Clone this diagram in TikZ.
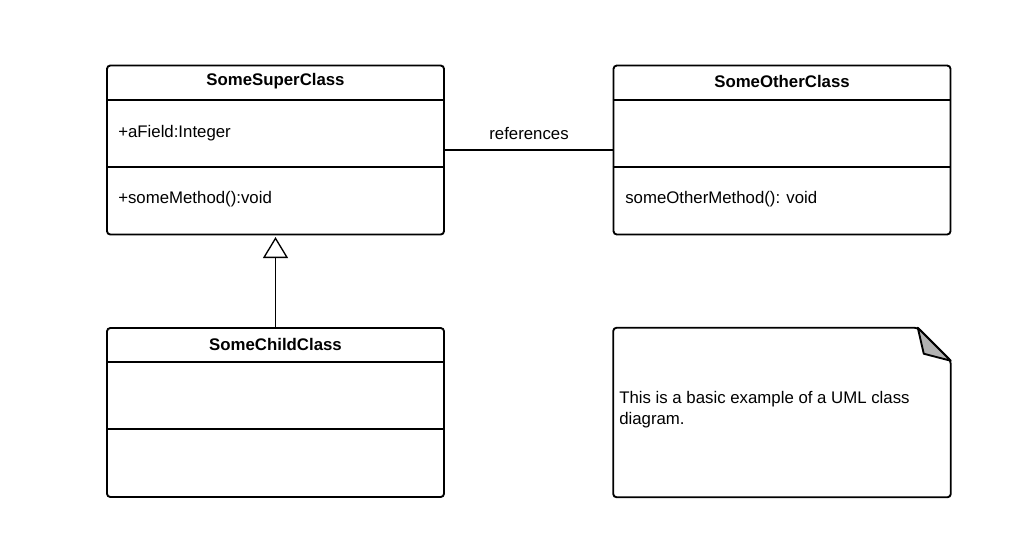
\documentclass[tikz,border=0pt]{standalone}
\usepackage{fontspec}
\setmainfont{Liberation Sans}
\usetikzlibrary{arrows.meta,positioning}
\tikzstyle{outline}=[
	draw=black,
	line width=1.4pt
]
\tikzstyle{classbox}=[
	outline,
	rounded corners=2.5pt,
	minimum width=252.75pt,
	minimum height=126.75pt,
	inner sep=0pt
]
\tikzstyle{divider}=[
	draw=black,
	line width=1.4pt
]
\tikzstyle{edge}=[
	-,
	draw=black,
	line width=1pt
]
\tikzstyle{cname}=[
	font=\fontsize{12.6}{15.75}\selectfont\bfseries,
	inner sep=0pt
]
\tikzstyle{member}=[
	font=\fontsize{12.6}{15.75}\selectfont,
	anchor=west,
	inner sep=0pt
]

\begin{document}
\begin{tikzpicture}[x=0.75pt, y=-0.75pt]
\useasboundingbox (0,0) rectangle (1030,544);

\node[classbox] (super) at (275.5,150) {};
\node[classbox] (other) at (782,150) {};
\node[classbox] (child) at (275.5,412.5) {};
\node[minimum width=252.75pt, minimum height=126.75pt, inner sep=0pt] (note) at (782,412.5) {};

% compartments
\foreach \c in {super,other,child} {
    \draw[divider] ([yshift=-26.25pt]\c.north west) -- ([yshift=-26.25pt]\c.north east);
    \draw[divider] ([yshift=-76.5pt]\c.north west) -- ([yshift=-76.5pt]\c.north east);
}

\node[cname] (supername) at (275.5,81) {SomeSuperClass};
\node[cname] (othername) at (782,81) {SomeOtherClass};
\node[cname] (childname) at (275.5,344) {SomeChildClass};

\node[member] (field) at (118,133) {+aField:Integer};
\node[member] (method) at (118,199) {+someMethod():void};
\node[member] (othermethod) at (625,199) {someOtherMethod(): void};

% note with folded corner
\draw[outline, rounded corners=2.5pt] (note.north west) -- ([xshift=-24.75pt]note.north east)
    -- ([yshift=-24.75pt]note.north east) -- (note.south east) -- (note.south west) -- cycle;
\draw[outline, fill=black!30, line join=round] ([xshift=-24.75pt]note.north east)
    -- ([xshift=-20.25pt, yshift=-19.5pt]note.north east) -- ([yshift=-24.75pt]note.north east) -- cycle;
\node[member, align=left] (notetext) at (619,410) {This is a basic example of a UML class\\diagram.};

% relations
\draw[edge] (super.east) -- (other.west);
\node[member, anchor=center] (reflabel) at (529,133) {references};
\draw[edge, -{Triangle[open, length=15.75pt, width=18.75pt, line width=1pt]}, shorten >=1.2pt] (child.north) -- (super.south);

\end{tikzpicture}
\end{document}
